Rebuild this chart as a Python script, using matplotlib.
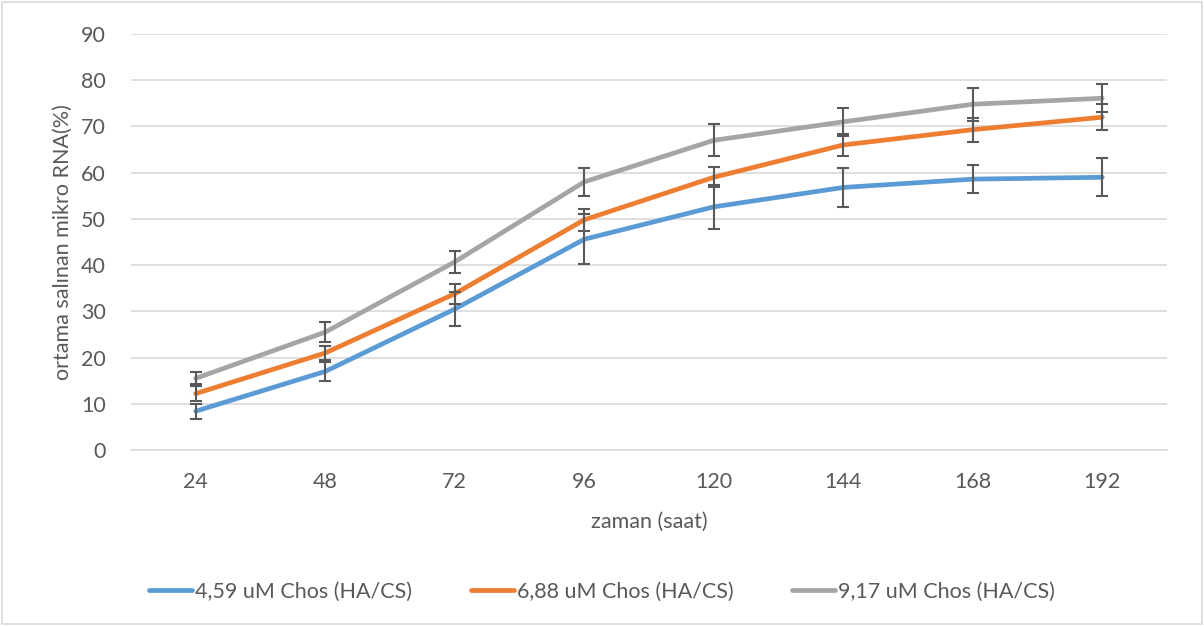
import matplotlib.pyplot as plt
import matplotlib.patches as mpatches

# Veriler
saatler = ['24', '48', '72', '96', '120', '144', '168', '192']
seri_adlari = ['4,59 uM Chos (HA/CS)', '6,88 uM Chos (HA/CS)', '9,17 uM Chos (HA/CS)']
mavi = [8.4, 17.0, 30.5, 45.6, 52.6, 56.8, 58.6, 59.0]
mavi_hata = [1.6, 2.0, 3.7, 5.4, 4.7, 4.3, 3.1, 4.1]
turuncu = [12.2, 21.0, 33.8, 49.8, 59.0, 66.0, 69.3, 72.0]
turuncu_hata = [1.6, 1.6, 2.2, 2.4, 2.2, 2.4, 2.6, 2.8]
gri = [15.5, 25.5, 40.7, 58.0, 67.0, 71.0, 74.8, 76.1]
gri_hata = [1.3, 2.2, 2.4, 3.1, 3.5, 3.0, 3.6, 3.0]

renkler = ['#5B9BD5', '#ED7D31', '#A5A5A5']


def ciz():
    fig = plt.figure(figsize=(12.04, 6.26), dpi=100)
    ax = fig.add_axes([131 / 1204, 1 - 450 / 626, (1167 - 131) / 1204, (450 - 34) / 626])

    x = list(range(len(saatler)))
    for y, e, c, ad in zip([mavi, turuncu, gri], [mavi_hata, turuncu_hata, gri_hata], renkler, seri_adlari):
        ax.plot(x, y, color=c, lw=3.4, label=ad, solid_capstyle='round', zorder=3)
        ax.errorbar(x, y, yerr=e, fmt='none', ecolor='#595959', elinewidth=1.5,
                    capsize=4.5, capthick=1.5, zorder=4)

    ax.set_xlim(-0.5, len(saatler) - 0.5)
    ax.set_ylim(0, 90)
    ax.set_yticks(range(0, 91, 10))
    ax.set_xticks(x)
    ax.set_xticklabels(saatler)
    ax.grid(axis='y', color='#D9D9D9', lw=1.2)
    ax.set_axisbelow(True)
    for s in ['top', 'right', 'left']:
        ax.spines[s].set_visible(False)
    ax.spines['bottom'].set_color('#D9D9D9')
    ax.spines['bottom'].set_linewidth(1.2)
    ax.tick_params(length=0, labelsize=15.5, colors='#595959')
    ax.tick_params(axis='x', pad=16)
    ax.tick_params(axis='y', pad=18)

    ax.set_xlabel('zaman (saat)', fontsize=15.5, color='#595959', labelpad=14)
    ax.set_ylabel('ortama salınan mikro RNA(%)', fontsize=15.5, color='#595959', labelpad=6)

    leg = fig.legend(loc='center', bbox_to_anchor=(0.5, 1 - 592 / 626), ncol=3, frameon=False,
                     fontsize=15.5, handlelength=2.0, columnspacing=2.7, handletextpad=0.15)
    for t in leg.get_texts():
        t.set_color('#595959')

    # Çerçeve
    fig.patches.append(mpatches.Rectangle((0.002, 0.003), 0.996, 0.994, transform=fig.transFigure,
                                          fill=False, edgecolor='#D9D9D9', lw=1.2))

    plt.savefig('out.png', dpi=100, facecolor='white')
    plt.close()


if __name__ == '__main__':
    plt.rcParams['font.family'] = ['Lato', 'DejaVu Sans']
    ciz()
